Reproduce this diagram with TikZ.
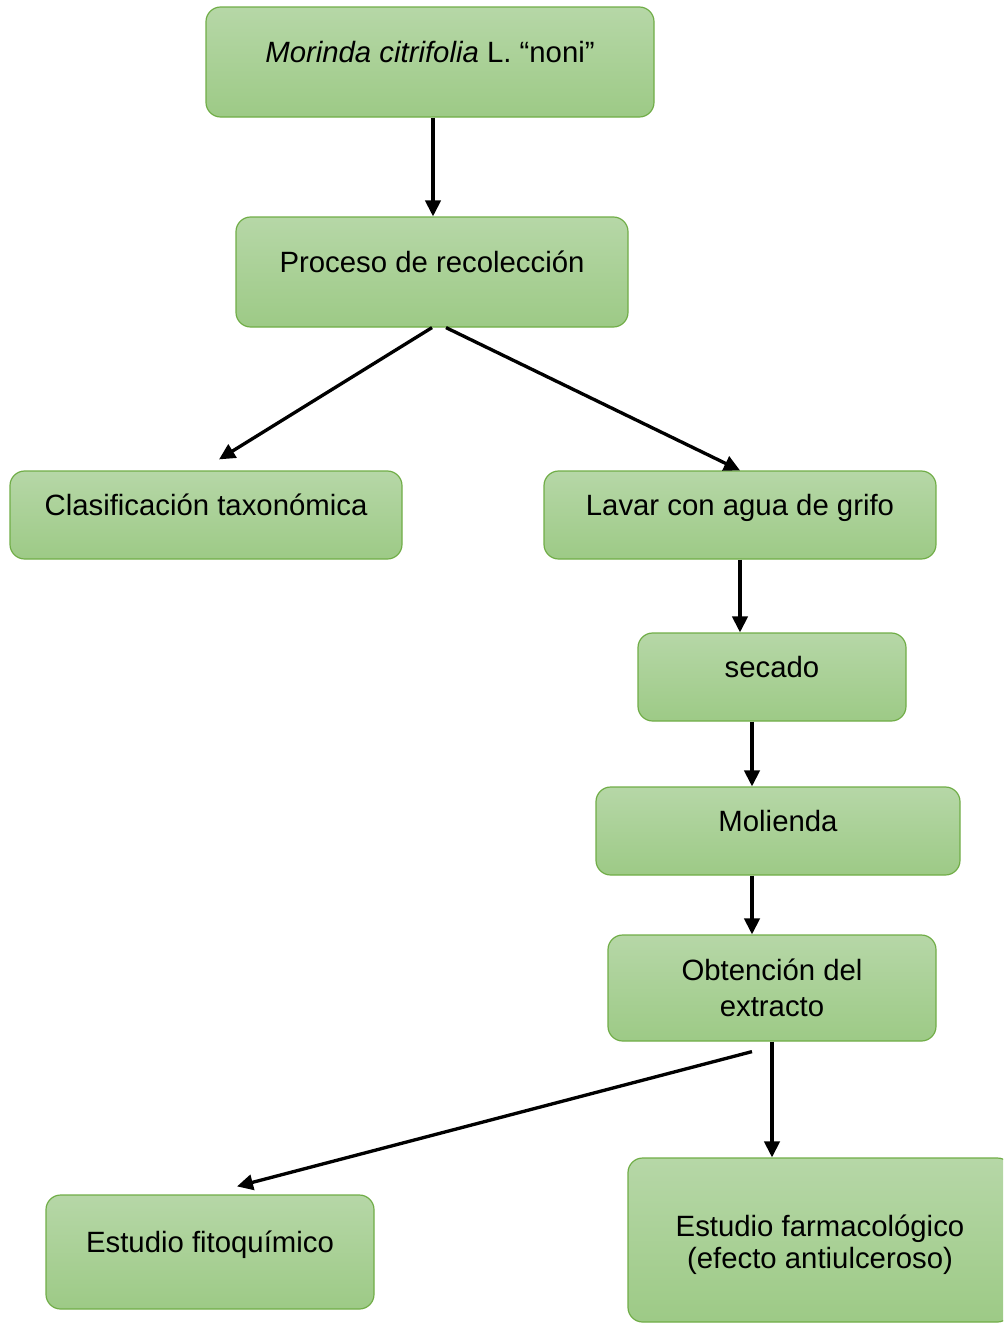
\documentclass[tikz,border=0pt]{standalone}
\usepackage{fontspec}
\setmainfont{Liberation Sans}
\usetikzlibrary{arrows.meta}

\definecolor{boxtop}{RGB}{182,215,167}
\definecolor{boxbottom}{RGB}{157,202,134}
\definecolor{boxline}{RGB}{112,173,71}

\tikzset{every picture/.style={line width=0.75pt}}
\tikzset{
	box/.style={draw=boxline, line width=0.9pt, rounded corners=11pt, top color=boxtop, bottom color=boxbottom, align=center, font=\fontsize{22}{27}\selectfont},
	oneline/.style={text height=8pt, text depth=8pt},
	flow/.style={line width=2.5pt, -{Triangle[length=12pt, width=11.5pt]}}
}

\begin{document}
\begin{tikzpicture}[x=0.75pt,y=0.75pt,yscale=-1,xscale=1]
	\useasboundingbox (0,0) rectangle (1003,1324);
	\clip (0,0) rectangle (1003,1324);

	%Shape: Rounded Rect [id:noni] 
	\node [box, oneline, minimum width=336pt, minimum height=82.5pt] (noni) at (430,62) {\textit{Morinda citrifolia} L. “noni”};
	%Shape: Rounded Rect [id:recol] 
	\node [box, oneline, minimum width=294pt, minimum height=82.5pt] (recol) at (432,272) {Proceso de recolección};
	%Shape: Rounded Rect [id:clasif] 
	\node [box, oneline, minimum width=294pt, minimum height=66pt] (clasif) at (206,515) {Clasificación taxonómica};
	%Shape: Rounded Rect [id:lavar] 
	\node [box, oneline, minimum width=294pt, minimum height=66pt] (lavar) at (740,515) {Lavar con agua de grifo};
	%Shape: Rounded Rect [id:secado] 
	\node [box, oneline, minimum width=201pt, minimum height=66pt] (secado) at (772,677) {secado};
	%Shape: Rounded Rect [id:molienda] 
	\node [box, oneline, minimum width=273pt, minimum height=66pt] (molienda) at (778,831) {Molienda};
	%Shape: Rounded Rect [id:extracto] 
	\node [box, minimum width=246pt, minimum height=79.5pt] (extracto) at (772,988) {Obtención del\\extracto};
	%Shape: Rounded Rect [id:fito] 
	\node [box, oneline, minimum width=246pt, minimum height=85.5pt] (fito) at (210,1252) {Estudio fitoquímico};
	%Shape: Rounded Rect [id:farma] 
	\node [box, font=\fontsize{22}{24}\selectfont, text height=48pt, text depth=5pt, minimum width=288pt, minimum height=123pt] (farma) at (820,1240) {Estudio farmacológico\\(efecto antiulceroso)};

	%Straight Lines [id:a1] 
	\draw [flow] ([shift={(3,0)}]noni.south) -- ([shift={(3,0)}]noni.south |- recol.north);
	%Straight Lines [id:a2] 
	\draw [flow] (recol.south) -- ([shift={(13,-11)}]clasif.north);
	%Straight Lines [id:a3] 
	\draw [flow] ([shift={(14,0)}]recol.south) -- (lavar.north);
	%Straight Lines [id:a4] 
	\draw [flow] (lavar.south) -- (lavar.south |- secado.north);
	%Straight Lines [id:a5] 
	\draw [flow] ([shift={(-20,0)}]secado.south) -- ([shift={(-20,0)}]secado.south |- molienda.north);
	%Straight Lines [id:a6] 
	\draw [flow] ([shift={(-20,0)}]extracto.north |- molienda.south) -- ([shift={(-20,0)}]extracto.north);
	%Straight Lines [id:a7] 
	\draw [flow] ([shift={(-20,10)}]extracto.south) -- ([shift={(27,-8)}]fito.north);
	%Straight Lines [id:a8] 
	\draw [flow] (extracto.south) -- (extracto.south |- farma.north);

\end{tikzpicture}
\end{document}
